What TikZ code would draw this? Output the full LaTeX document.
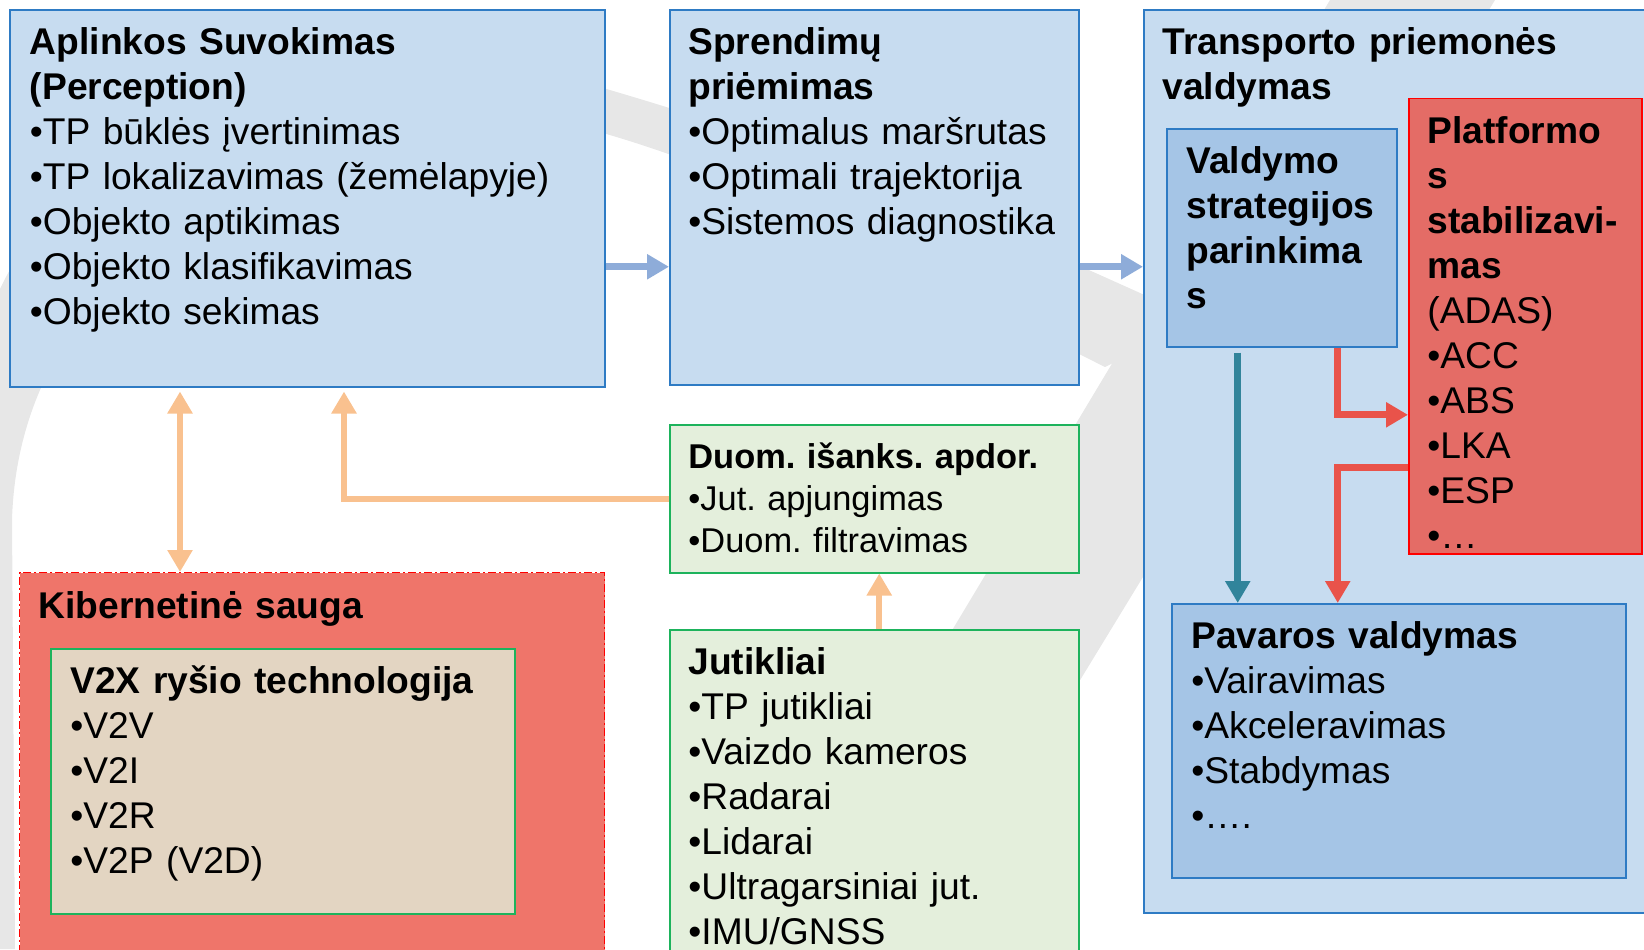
\documentclass[tikz,border=0pt]{standalone}
\usepackage{fontspec}
\setmainfont{Liberation Sans}
\usetikzlibrary{arrows.meta}
\frenchspacing

\definecolor{lightblue}{HTML}{C7DCF0}
\definecolor{midblue}{HTML}{A5C5E6}
\definecolor{edgeblue}{HTML}{2E7BC4}
\definecolor{adasred}{HTML}{E46C66}
\definecolor{cyberred}{HTML}{EF756A}
\definecolor{tan}{HTML}{E3D5C2}
\definecolor{palegreen}{HTML}{E4EFDC}
\definecolor{edgegreen}{HTML}{1DB35C}
\definecolor{arrowblue}{HTML}{8EACD9}
\definecolor{arroworange}{HTML}{F9C18F}
\definecolor{arrowteal}{HTML}{31849B}
\definecolor{arrowred}{HTML}{E9534A}
\definecolor{swoosh}{HTML}{E7E7E7}

\begin{document}
\begin{tikzpicture}
  [
    x=.5pt,
    y=-.5pt,
    box/.style={
      draw,
      anchor=north west,
      inner sep=0pt,
      line width=.75pt
    },
    bluebox/.style={
      box,
      fill=lightblue,
      draw=edgeblue
    },
    darkbox/.style={
      box,
      fill=midblue,
      draw=edgeblue
    },
    greenbox/.style={
      box,
      fill=palegreen,
      draw=edgegreen
    },
    txt/.style={
      anchor=base west,
      inner sep=0pt,
      text width=300pt,
      align=left,
      font=\fontsize{18.6}{22.5}\selectfont
    },
    flow/.style={
      line width=3.5pt,
      -{Triangle[length=11pt,width=12pt]}
    }
  ]

  \useasboundingbox (0,0) rectangle (1644,949);

  % background swoosh
  \fill [swoosh] (-5,949) -- (-5,300) .. controls (80,100) and (380,25) .. (603,88)
    .. controls (850,160) and (1000,230) .. (1200,320)
    -- (1105,367) .. controls (950,290) and (800,190) .. (603,133)
    .. controls (300,110) and (20,250) .. (12,520) -- (15,949) -- cycle;
  \fill [swoosh] (1330,0) -- (1495,0) -- (916,949) -- (761,949) -- cycle;

  % boxes
  \node (perc) [bluebox, minimum width=297.3pt, minimum height=188.3pt] at (9.4,9.4) {};
  \node (spr) [bluebox, minimum width=204.5pt, minimum height=187.3pt] at (669,9.4) {};
  \node (trans) [bluebox, minimum width=260pt, minimum height=451.3pt] at (1143,9.4) {};
  \node (valdym) [darkbox, minimum width=115pt, minimum height=109pt] at (1166,128) {};
  \node (platf) [box, fill=adasred, draw=red, minimum width=116.5pt, minimum height=227.75pt] at (1408,97.5) {};
  \node (pav) [darkbox, minimum width=227pt, minimum height=137pt] at (1171,603) {};
  \node (duom) [greenbox, minimum width=204.5pt, minimum height=74pt] at (669,424) {};
  \node (jut) [greenbox, minimum width=204.5pt, minimum height=175pt] at (669,629) {};
  \node (kiber) [box, fill=cyberred, draw=red, line width=.5pt,
    dash pattern=on 4pt off 1.5pt on 1pt off 1.5pt,
    minimum width=292.5pt, minimum height=205pt] at (19,572) {};
  \node (v2x) [box, fill=tan, draw=edgegreen, minimum width=232pt, minimum height=132.5pt] at (50,648) {};

  % texts
  \node (perc-t) [txt] at ([shift={(20,45)}]perc.north west)
    {\textbf{Aplinkos Suvokimas}\\ \textbf{(Perception)}\\ •TP būklės įvertinimas\\
     •TP lokalizavimas (žemėlapyje)\\ •Objekto aptikimas\\ •Objekto klasifikavimas\\ •Objekto sekimas};
  \node (spr-t) [txt] at ([shift={(19,45)}]spr.north west)
    {\textbf{Sprendimų}\\ \textbf{priėmimas}\\ •Optimalus maršrutas\\ •Optimali trajektorija\\ •Sistemos diagnostika};
  \node (trans-t) [txt] at ([shift={(19,45)}]trans.north west)
    {\textbf{Transporto priemonės}\\ \textbf{valdymas}};
  \node (valdym-t) [txt] at ([shift={(20,45)}]valdym.north west)
    {\textbf{Valdymo}\\ \textbf{strategijos}\\ \textbf{parinkima}\\ \textbf{s}};
  \node (platf-t) [txt] at ([shift={(19,45.5)}]platf.north west)
    {\textbf{Platformo}\\ \textbf{s}\\ \textbf{stabilizavi-}\\ \textbf{mas}\\ (ADAS)\\
     •ACC\\ •ABS\\ •LKA\\ •ESP\\ •…};
  \node (pav-t) [txt] at ([shift={(20,45)}]pav.north west)
    {\textbf{Pavaros valdymas}\\ •Vairavimas\\ •Akceleravimas\\ •Stabdymas\\ •….};
  \node (duom-t) [txt, font=\fontsize{17.2}{21}\selectfont] at ([shift={(19,44)}]duom.north west)
    {\textbf{Duom. išanks. apdor.}\\ •Jut. apjungimas\\ •Duom. filtravimas};
  \node (jut-t) [txt] at ([shift={(19,45)}]jut.north west)
    {\textbf{Jutikliai}\\ •TP jutikliai\\ •Vaizdo kameros\\ •Radarai\\ •Lidarai\\
     •Ultragarsiniai jut.\\ •IMU/GNSS};
  \node (kiber-t) [txt] at ([shift={(19,46)}]kiber.north west)
    {\textbf{Kibernetinė sauga}};
  \node (v2x-t) [txt] at ([shift={(20,45)}]v2x.north west)
    {\textbf{V2X ryšio technologija}\\ •V2V\\ •V2I\\ •V2R\\ •V2P (V2D)};

  % arrows
  \draw [flow, arrowblue] ([yshift=-34.15pt]perc.east) -- ([yshift=-34.15pt]perc.east -| spr.west);
  \draw [flow, arrowblue] ([yshift=-34.65pt]spr.east) -- ([yshift=-34.65pt]spr.east -| trans.west);
  \draw [flow, arroworange, line width=3pt, {Triangle[length=11pt,width=12pt]}-{Triangle[length=11pt,width=12pt]},
    shorten <=2pt] ([xshift=85.3pt]perc.south west) -- ([xshift=85.3pt]perc.south west |- kiber.north);
  \draw [flow, arroworange, line width=3pt, shorten >=2pt] (duom.west) -| ([xshift=167.3pt]perc.south west);
  \draw [flow, arroworange, line width=3pt] ([xshift=2.5pt]jut.north) -- ([xshift=2.5pt]duom.south);
  \draw [flow, arrowteal, shorten <=2.5pt] ([xshift=-22pt]valdym.south) -- ([xshift=-22pt]valdym.south |- pav.north);
  \draw [flow, arrowred] ([xshift=28pt]valdym.south) |- ([yshift=-44.4pt]platf.west);
  \draw [flow, arrowred] ([yshift=-70.9pt]platf.west) -| ([xshift=28pt]valdym.south |- pav.north);
\end{tikzpicture}
\end{document}
